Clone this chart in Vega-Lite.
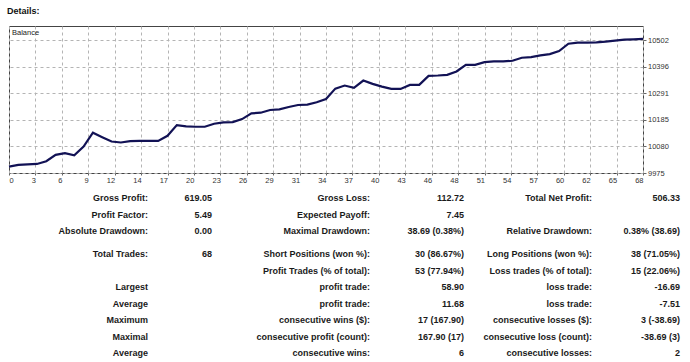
{
  "$schema": "https://vega.github.io/schema/vega-lite/v6.json",
  "background": "white",
  "padding": {"left": 4, "top": 6, "right": 0, "bottom": 0},
  "spacing": 0,
  "config": {"font": "Liberation Sans", "view": {"stroke": null}},
  "vconcat": [
    {
      "width": 634,
      "height": 147,
      "title": {"text": "Details:", "anchor": "start", "frame": "group", "font": "Liberation Sans", "fontSize": 9, "fontWeight": "bold", "color": "#111111", "offset": 10, "dx": -2},
      "view": {"stroke": "#444444", "strokeWidth": 1},
      "data": {"values": [
        {"trade": 0, "balance": 10000}, {"trade": 1, "balance": 10006.9}, {"trade": 2, "balance": 10009.5}, {"trade": 3, "balance": 10010.8},
        {"trade": 4, "balance": 10021.5}, {"trade": 5, "balance": 10046.7}, {"trade": 6, "balance": 10053.3}, {"trade": 7, "balance": 10045.4},
        {"trade": 8, "balance": 10079.9}, {"trade": 9, "balance": 10134.5}, {"trade": 10, "balance": 10117.0}, {"trade": 11, "balance": 10099.8},
        {"trade": 12, "balance": 10095.8}, {"trade": 13, "balance": 10101.0}, {"trade": 14, "balance": 10102.4}, {"trade": 15, "balance": 10102.4},
        {"trade": 16, "balance": 10102.4}, {"trade": 17, "balance": 10122.4}, {"trade": 18, "balance": 10164.8}, {"trade": 19, "balance": 10159.5},
        {"trade": 20, "balance": 10158.2}, {"trade": 21, "balance": 10158.2}, {"trade": 22, "balance": 10170.1}, {"trade": 23, "balance": 10175.5},
        {"trade": 24, "balance": 10176.8}, {"trade": 25, "balance": 10188.7}, {"trade": 26, "balance": 10211.3}, {"trade": 27, "balance": 10214.0},
        {"trade": 28, "balance": 10224.6}, {"trade": 29, "balance": 10227.2}, {"trade": 30, "balance": 10236.5}, {"trade": 31, "balance": 10244.5},
        {"trade": 32, "balance": 10245.8}, {"trade": 33, "balance": 10255.1}, {"trade": 34, "balance": 10268.4}, {"trade": 35, "balance": 10309.5},
        {"trade": 36, "balance": 10321.5}, {"trade": 37, "balance": 10312.2}, {"trade": 38, "balance": 10341.4}, {"trade": 39, "balance": 10328.1},
        {"trade": 40, "balance": 10317.5}, {"trade": 41, "balance": 10308.2}, {"trade": 42, "balance": 10308.2}, {"trade": 43, "balance": 10324.1},
        {"trade": 44, "balance": 10324.1}, {"trade": 45, "balance": 10360.0}, {"trade": 46, "balance": 10361.3}, {"trade": 47, "balance": 10364.0},
        {"trade": 48, "balance": 10377.2}, {"trade": 49, "balance": 10403.8}, {"trade": 50, "balance": 10403.8}, {"trade": 51, "balance": 10414.4},
        {"trade": 52, "balance": 10417.1}, {"trade": 53, "balance": 10417.1}, {"trade": 54, "balance": 10419.7}, {"trade": 55, "balance": 10431.7},
        {"trade": 56, "balance": 10434.3}, {"trade": 57, "balance": 10441.0}, {"trade": 58, "balance": 10446.3}, {"trade": 59, "balance": 10458.2},
        {"trade": 60, "balance": 10487.4}, {"trade": 61, "balance": 10491.4}, {"trade": 62, "balance": 10491.4}, {"trade": 63, "balance": 10492.7},
        {"trade": 64, "balance": 10495.4}, {"trade": 65, "balance": 10499.3}, {"trade": 66, "balance": 10503.3}, {"trade": 67, "balance": 10504.6},
        {"trade": 68, "balance": 10506.33}
      ]},
      "layer": [
        {
          "mark": {"type": "line", "color": "#121255", "strokeWidth": 2.2},
          "encoding": {
            "x": {
              "field": "trade", "type": "quantitative",
              "scale": {"domain": [0, 68], "nice": false, "zero": false},
              "axis": {
                "title": null,
                "values": [0, 2.833333, 5.666667, 8.5, 11.333333, 14.166667, 17, 19.833333, 22.666667, 25.5, 28.333333, 31.166667, 34, 36.833333, 39.666667, 42.5, 45.333333, 48.166667, 51, 53.833333, 56.666667, 59.5, 62.333333, 65.166667, 68],
                "tickCount": 40,
                "labelExpr": "['0','3','6','9','12','14','17','20','23','26','29','31','34','37','40','43','46','48','51','54','57','60','62','65','68'][round(datum.value*24/68)]",
                "grid": true, "gridColor": "#b4b4b4", "gridDash": [3, 3], "gridWidth": 1,
                "domain": false, "ticks": true, "tickSize": 2, "tickColor": "#666666",
                "labelFont": "Liberation Sans", "labelFontSize": 7.5, "labelColor": "#333333", "labelPadding": 1,
                "labelFlush": false, "labelOverlap": false,
                "labelAlign": {"condition": {"test": "datum.value == 0", "value": "left"}, "value": "right"}
              }
            },
            "y": {
              "field": "balance", "type": "quantitative",
              "scale": {"domain": [9975, 10557.5], "nice": false, "zero": false},
              "axis": {
                "title": null, "orient": "right",
                "values": [9975, 10080.4, 10185.8, 10291.2, 10396.6, 10502],
                "tickCount": 20,
                "labelExpr": "'' + floor(datum.value)",
                "grid": true, "gridColor": "#b4b4b4", "gridDash": [3, 3], "gridWidth": 1,
                "domain": false, "ticks": true, "tickSize": 3, "tickColor": "#666666",
                "labelFont": "Liberation Sans", "labelFontSize": 7.5, "labelColor": "#333333", "labelPadding": 1.5,
                "labelFlush": false, "labelOverlap": false
              }
            }
          }
        },
        {
          "data": {"values": [{"label": "Balance"}]},
          "mark": {"type": "text", "align": "left", "baseline": "top", "dx": 3, "dy": 3, "fontSize": 7.5, "color": "#222222", "font": "Liberation Sans"},
          "encoding": {
            "x": {"datum": 0, "type": "quantitative"},
            "y": {"datum": 10557.5, "type": "quantitative"},
            "text": {"field": "label"}
          }
        }
      ]
    },
    {
      "width": 675,
      "height": 175,
      "data": {"values": [
        {"row": 0, "col": 0, "text": "Gross Profit:"}, {"row": 0, "col": 1, "text": "619.05"},
        {"row": 0, "col": 2, "text": "Gross Loss:"}, {"row": 0, "col": 3, "text": "112.72"},
        {"row": 0, "col": 4, "text": "Total Net Profit:"}, {"row": 0, "col": 5, "text": "506.33"},
        {"row": 1, "col": 0, "text": "Profit Factor:"}, {"row": 1, "col": 1, "text": "5.49"},
        {"row": 1, "col": 2, "text": "Expected Payoff:"}, {"row": 1, "col": 3, "text": "7.45"},
        {"row": 2, "col": 0, "text": "Absolute Drawdown:"}, {"row": 2, "col": 1, "text": "0.00"},
        {"row": 2, "col": 2, "text": "Maximal Drawdown:"}, {"row": 2, "col": 3, "text": "38.69 (0.38%)"},
        {"row": 2, "col": 4, "text": "Relative Drawdown:"}, {"row": 2, "col": 5, "text": "0.38% (38.69)"},
        {"row": 3, "col": 0, "text": "Total Trades:"}, {"row": 3, "col": 1, "text": "68"},
        {"row": 3, "col": 2, "text": "Short Positions (won %):"}, {"row": 3, "col": 3, "text": "30 (86.67%)"},
        {"row": 3, "col": 4, "text": "Long Positions (won %):"}, {"row": 3, "col": 5, "text": "38 (71.05%)"},
        {"row": 4, "col": 2, "text": "Profit Trades (% of total):"}, {"row": 4, "col": 3, "text": "53 (77.94%)"},
        {"row": 4, "col": 4, "text": "Loss trades (% of total):"}, {"row": 4, "col": 5, "text": "15 (22.06%)"},
        {"row": 5, "col": 0, "text": "Largest"}, {"row": 5, "col": 2, "text": "profit trade:"}, {"row": 5, "col": 3, "text": "58.90"},
        {"row": 5, "col": 4, "text": "loss trade:"}, {"row": 5, "col": 5, "text": "-16.69"},
        {"row": 6, "col": 0, "text": "Average"}, {"row": 6, "col": 2, "text": "profit trade:"}, {"row": 6, "col": 3, "text": "11.68"},
        {"row": 6, "col": 4, "text": "loss trade:"}, {"row": 6, "col": 5, "text": "-7.51"},
        {"row": 7, "col": 0, "text": "Maximum"}, {"row": 7, "col": 2, "text": "consecutive wins ($):"}, {"row": 7, "col": 3, "text": "17 (167.90)"},
        {"row": 7, "col": 4, "text": "consecutive losses ($):"}, {"row": 7, "col": 5, "text": "3 (-38.69)"},
        {"row": 8, "col": 0, "text": "Maximal"}, {"row": 8, "col": 2, "text": "consecutive profit (count):"}, {"row": 8, "col": 3, "text": "167.90 (17)"},
        {"row": 8, "col": 4, "text": "consecutive loss (count):"}, {"row": 8, "col": 5, "text": "-38.69 (3)"},
        {"row": 9, "col": 0, "text": "Average"}, {"row": 9, "col": 2, "text": "consecutive wins:"}, {"row": 9, "col": 3, "text": "6"},
        {"row": 9, "col": 4, "text": "consecutive losses:"}, {"row": 9, "col": 5, "text": "2"}
      ]},
      "mark": {"type": "text", "align": "right", "baseline": "middle", "fontSize": 9, "fontWeight": "bold", "color": "#1a1a1a", "font": "Liberation Sans"},
      "encoding": {
        "x": {"field": "col", "type": "quantitative", "scale": {"domain": [0, 1, 2, 3, 4, 5], "range": [139, 203, 361, 455, 583, 671], "nice": false, "zero": false}, "axis": null},
        "y": {"field": "row", "type": "quantitative", "scale": {"domain": [0, 2, 3, 9], "range": [14, 47, 70, 169], "nice": false, "zero": false}, "axis": null},
        "text": {"field": "text"}
      }
    }
  ]
}
